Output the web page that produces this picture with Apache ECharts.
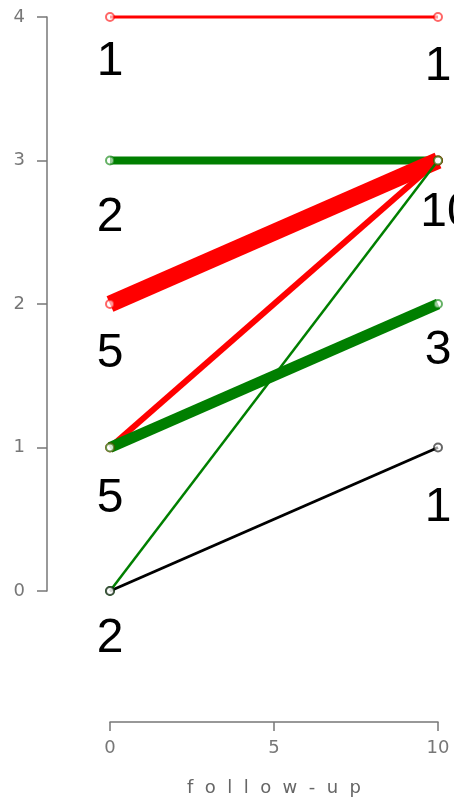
<!DOCTYPE html>
<html>
<head>
<meta charset="utf-8">
<script src="https://cdn.jsdelivr.net/npm/echarts@6/dist/echarts.min.js"></script>
<style>
  html, body { margin: 0; padding: 0; background: #fff; }
  #main { width: 454px; height: 797px; }
</style>
</head>
<body>
<div id="main"></div>
<script>
// follow-up time points
var xStart = 0;
var xEnd = 10;
// each segment: value at start, value at end
var fromVal = [4, 3, 2, 1, 1, 0, 0];
var toVal   = [4, 3, 3, 3, 2, 3, 1];
// counts written under each point
var countX    = [0, 10, 0, 10, 0, 10, 0, 10, 0];
var countY    = [4, 4, 3, 3, 2, 2, 1, 1, 0];
var countText = ['1', '1', '2', '10', '5', '3', '5', '1', '2'];
// axis ticks
var yTicks = [0, 1, 2, 3, 4];
var xTicks = [0, 5, 10];

// styles
var segColor = ['#ff0000', '#007f00', '#ff0000', '#ff0000', '#007f00', '#007f00', '#000000'];
var segWidth = [3, 8, 17, 6, 11, 2.5, 3];
var countNudge = [[0, 45], [0, 50], [0, 57], [9, 52], [0, 50], [0, 47], [0, 51], [0, 60], [0, 48]];

var myChart = echarts.init(document.getElementById('main'));

var series = [];
for (let i = 0; i < fromVal.length; i++) {
  series.push({
    type: 'line',
    clip: false,
    symbol: 'emptyCircle',
    symbolSize: 8,
    itemStyle: { color: segColor[i], borderColor: segColor[i], borderWidth: 1, opacity: 0.6 },
    lineStyle: { color: segColor[i], width: segWidth[i] },
    emphasis: { disabled: true },
    data: [[xStart, fromVal[i]], [xEnd, toVal[i]]]
  });
}

var countData = [];
for (let i = 0; i < countText.length; i++) {
  countData.push({
    value: [countX[i], countY[i], countText[i]],
    label: { offset: countNudge[i] }
  });
}
series.push({
  type: 'scatter',
  clip: false,
  symbolSize: 0,
  silent: true,
  itemStyle: { opacity: 1 },
  label: {
    show: true,
    position: 'inside',
    fontFamily: 'Liberation Sans, Arial, sans-serif',
    fontSize: 48,
    color: '#000',
    textBorderWidth: 0,
    formatter: function (p) { return p.value[2]; }
  },
  data: countData
});

var tickFont = { fontFamily: 'DejaVu Sans', fontSize: 18, color: '#777' };

option = {
  backgroundColor: '#fff',
  animation: false,
  grid: { left: 110, right: 16, top: 17, bottom: 206, containLabel: false, outerBoundsMode: 'none' },
  xAxis: {
    type: 'value',
    min: xStart,
    max: xEnd,
    interval: 5,
    position: 'bottom',
    offset: 131,
    name: 'f  o  l  l  o  w  -  u  p',
    nameLocation: 'middle',
    nameGap: 57,
    nameTextStyle: { fontFamily: 'DejaVu Sans', fontSize: 18, color: '#666' },
    axisLine: { onZero: false, lineStyle: { color: '#777', width: 1.5 } },
    axisTick: { length: 9, lineStyle: { color: '#777', width: 1.5 } },
    axisLabel: Object.assign({ margin: 17, formatter: function (v) { return xTicks.indexOf(v) >= 0 ? v : ''; } }, tickFont),
    splitLine: { show: false }
  },
  yAxis: {
    type: 'value',
    min: yTicks[0],
    max: yTicks[yTicks.length - 1],
    interval: 1,
    position: 'left',
    offset: 63,
    axisLine: { show: true, onZero: false, lineStyle: { color: '#777', width: 1.5 } },
    axisTick: { show: true, length: 10, lineStyle: { color: '#777', width: 1.5 } },
    axisLabel: Object.assign({ margin: 22 }, tickFont),
    splitLine: { show: false }
  },
  series: series
};
myChart.setOption(option);
</script>
</body>
</html>
